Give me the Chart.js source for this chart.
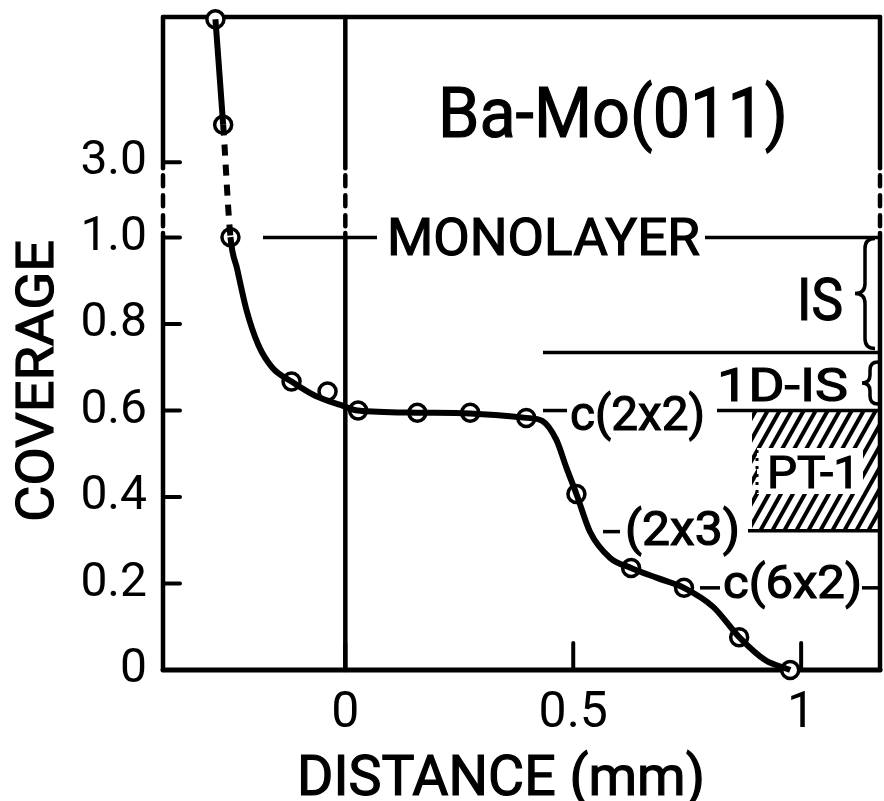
<!DOCTYPE html>
<html>
<head>
<meta charset="utf-8">
<script src="https://cdn.jsdelivr.net/npm/chart.js@4.4.1/dist/chart.umd.min.js"></script>
<style>
  html, body { margin: 0; padding: 0; background: #fff; overflow: hidden; }
  #wrap { width: 892px; height: 801px; position: relative; }
  canvas { display: block; }
</style>
</head>
<body>
<div id="wrap"><canvas id="cov"></canvas></div>
<script>
const FONT = "Roboto, 'DejaVu Sans', sans-serif";
const WEIGHT = 400;

// measured points (circles): distance in mm, coverage
const pointDist = [-0.285, -0.268, -0.252, -0.118, -0.039, 0.028, 0.158, 0.274, 0.397, 0.507, 0.627, 0.743, 0.864, 0.976];
const pointCov  = [6.8, 4.0, 1.01, 0.667, 0.644, 0.600, 0.595, 0.595, 0.583, 0.407, 0.236, 0.190, 0.076, 0.0];

// the hand drawn curve through them
const curveDist = [-0.285, -0.268, -0.252, -0.237, -0.217, -0.191, -0.160, -0.118, -0.066, -0.011, 0.028, 0.158, 0.274,
                   0.397, 0.432, 0.463, 0.485, 0.507, 0.537, 0.581, 0.627, 0.684, 0.743, 0.807, 0.864, 0.921, 0.976];
const curveCov  = [6.8, 4.0, 1.012, 0.926, 0.833, 0.752, 0.699, 0.667, 0.634, 0.613, 0.600, 0.595, 0.593,
                   0.583, 0.576, 0.532, 0.468, 0.407, 0.319, 0.259, 0.236, 0.213, 0.190, 0.146, 0.076, 0.023, 0.0];

const xTicks = [0, 0.5, 1];
const xTickLabels = ['0', '0.5', '1'];
const yTicks = [0, 0.2, 0.4, 0.6, 0.8, 1.0, 3.0];
const yTickLabels = ['0', '0.2', '0.4', '0.6', '0.8', '1.0', '3.0'];

// phase boundaries (coverage)
const monolayerCov = 1.0;
const isBoundCov = 0.734;
const c2x2Cov = 0.6;
const pt1LowCov = 0.322;
const c2x3Cov = 0.32;
const c6x2Cov = 0.19;

// axis above 1.0 is compressed (broken scale)
const BREAK_K = 0.087;
function toPlot(v) { return v <= 1 ? v : 1 + (v - 1) * BREAK_K; }

function line(ctx, x1, y1, x2, y2, w, dash) {
  ctx.beginPath();
  ctx.lineWidth = w;
  ctx.setLineDash(dash || []);
  ctx.moveTo(x1, y1);
  ctx.lineTo(x2, y2);
  ctx.stroke();
  ctx.setLineDash([]);
}

// text squeezed to a given width, like the narrow lettering of the figure
function fitText(ctx, text, x0, x1, base, size) {
  ctx.save();
  ctx.font = WEIGHT + ' ' + size + 'px ' + FONT;
  const w = ctx.measureText(text).width;
  ctx.translate(x0, base);
  ctx.scale((x1 - x0) / w, 1);
  ctx.textAlign = 'left';
  ctx.textBaseline = 'alphabetic';
  ctx.fillStyle = '#000';
  ctx.strokeStyle = '#000';
  ctx.lineWidth = 1.2;
  ctx.fillText(text, 0, 0);
  ctx.strokeText(text, 0, 0);
  ctx.restore();
}

function brace(ctx, x, yTop, yBot, w) {
  const mid = (yTop + yBot) / 2;
  const h = w / 2;
  ctx.beginPath();
  ctx.lineWidth = 3.5;
  ctx.moveTo(x + w, yTop);
  ctx.quadraticCurveTo(x + h, yTop, x + h, yTop + h);
  ctx.lineTo(x + h, mid - h);
  ctx.quadraticCurveTo(x + h, mid, x, mid);
  ctx.quadraticCurveTo(x + h, mid, x + h, mid + h);
  ctx.lineTo(x + h, yBot - h);
  ctx.quadraticCurveTo(x + h, yBot, x + w, yBot);
  ctx.stroke();
}

const framePlugin = {
  id: 'frame',
  beforeDatasetsDraw(chart) {
    const { ctx, chartArea: a, scales: { x, y } } = chart;
    const yb1 = y.getPixelForValue(1.16), yb2 = y.getPixelForValue(1.02);
    ctx.save();
    ctx.strokeStyle = '#000';
    ctx.lineCap = 'round';
    line(ctx, a.left, a.top, a.right, a.top, 4.5);
    line(ctx, a.left, a.bottom, a.right, a.bottom, 5);
    [a.left, x.getPixelForValue(0), a.right].forEach(px => {
      line(ctx, px, a.top, px, yb1, 4.5);
      line(ctx, px, yb1 + 7, px, yb2, 4.5, [11, 9]);
      line(ctx, px, yb2 + 4, px, a.bottom, 4.5);
    });
    y.ticks.forEach(t => {
      const py = y.getPixelForValue(t.value);
      line(ctx, a.left, py, a.left + 17, py, 4);
    });
    x.ticks.forEach(t => {
      const px = x.getPixelForValue(t.value);
      line(ctx, px, a.bottom, px, a.bottom - 27, 4);
    });
    ctx.restore();
  }
};

const notesPlugin = {
  id: 'notes',
  afterDatasetsDraw(chart) {
    const { ctx, chartArea: a, scales: { y } } = chart;
    const yMono = y.getPixelForValue(monolayerCov);
    const yIS = y.getPixelForValue(isBoundCov);
    const y22 = y.getPixelForValue(c2x2Cov);
    const yPT = y.getPixelForValue(pt1LowCov);
    const y23 = y.getPixelForValue(c2x3Cov);
    const y62 = y.getPixelForValue(c6x2Cov);
    ctx.save();
    ctx.strokeStyle = '#000';
    ctx.fillStyle = '#000';

    // hatched PT-1 region
    ctx.save();
    ctx.beginPath();
    ctx.rect(752, y22, a.right - 752, yPT - y22);
    ctx.clip();
    for (let k = -90; k < 160; k += 12) {
      line(ctx, 752 + k, yPT + 4, 752 + k + 72, y22 - 4, 4);
    }
    ctx.restore();
    ctx.fillStyle = '#fff';
    ctx.fillRect(757, 448, 106, 46);
    ctx.strokeStyle = '#000';
    line(ctx, 757, 450, 757, 494, 3, [3, 5]);
    fitText(ctx, 'PT-1', 767, 860, 488, 45);

    // phase lines
    line(ctx, 263, yMono, 377, yMono, 3.5);
    line(ctx, 705, yMono, a.right, yMono, 3.5);
    line(ctx, 543, yIS, a.right, yIS, 3.5);
    line(ctx, 543, y22, 567, y22, 3.5);
    line(ctx, 717, y22, a.right, y22, 3.5);
    line(ctx, 748, yPT, a.right, yPT, 3.5);
    line(ctx, 603, y23, 620, y23, 3.5);
    line(ctx, 700, y62, 720, y62, 3.5);
    line(ctx, 862, y62, a.right, y62, 3.5);

    brace(ctx, 855, yMono + 1, yIS - 4, 20);
    brace(ctx, 862, 362, 404, 16);

    fitText(ctx, 'Ba-Mo(011)', 438, 788, 137, 71);
    fitText(ctx, 'MONOLAYER', 387, 700, 255, 52);
    fitText(ctx, 'IS', 797, 843, 320, 60);
    fitText(ctx, '1D-IS', 717, 848, 401, 47);
    fitText(ctx, 'c(2x2)', 570, 705, 430, 48);
    fitText(ctx, '(2x3)', 625, 740, 545, 48);
    fitText(ctx, 'c(6x2)', 723, 862, 598, 46);

    // axis titles
    fitText(ctx, 'DISTANCE (mm)', 297, 705, 795, 55);
    ctx.save();
    ctx.translate(53, 522);
    ctx.rotate(-Math.PI / 2);
    fitText(ctx, 'COVERAGE', 0, 282, 0, 52);
    ctx.restore();
    ctx.restore();
  }
};

const curveData = curveDist.map((d, i) => ({ x: d, y: toPlot(curveCov[i]) }));
const pointData = pointDist.map((d, i) => ({ x: d, y: toPlot(pointCov[i]) }));

new Chart(document.getElementById('cov'), {
  type: 'line',
  data: {
    datasets: [
      {
        data: curveData,
        borderColor: '#000',
        borderWidth: 6,
        pointRadius: 0,
        cubicInterpolationMode: 'monotone',
        fill: false,
        clip: false,
        segment: {
          borderDash: ctx => ctx.p0DataIndex === 1 ? [11, 9] : undefined,
        },
      },
      {
        data: pointData,
        showLine: false,
        pointStyle: 'circle',
        pointRadius: 8.5,
        pointBorderWidth: 3.5,
        pointBackgroundColor: '#fff',
        pointBorderColor: '#000',
        clip: false,
      },
    ],
  },
  options: {
    responsive: true,
    maintainAspectRatio: false,
    animation: false,
    layout: { padding: { top: 17, right: 4, left: 0, bottom: 0 } },
    plugins: { legend: { display: false }, tooltip: { enabled: false } },
    scales: {
      x: {
        type: 'linear',
        min: -0.4,
        max: 1.173,
        grid: { display: false, drawTicks: false },
        border: { display: false },
        afterBuildTicks: s => { s.ticks = xTicks.map(v => ({ value: v })); },
        afterFit: s => { s.height = 131; s.paddingLeft = 0; s.paddingRight = 0; },
        ticks: {
          font: { family: FONT, size: 50, weight: WEIGHT },
          color: '#000',
          padding: 14,
          autoSkip: false,
          maxRotation: 0,
          callback: (v, i) => xTickLabels[i],
        },
      },
      y: {
        type: 'linear',
        min: 0,
        max: 1.51,
        grid: { display: false, drawTicks: false },
        border: { display: false },
        afterBuildTicks: s => { s.ticks = yTicks.map(v => ({ value: toPlot(v) })); },
        afterFit: s => { s.width = 163; s.paddingTop = 0; s.paddingBottom = 0; },
        ticks: {
          font: { family: FONT, size: 48, weight: WEIGHT },
          color: '#000',
          padding: 16,
          autoSkip: false,
          callback: (v, i) => yTickLabels[i],
        },
      },
    },
  },
  plugins: [framePlugin, notesPlugin],
});
</script>
</body>
</html>
